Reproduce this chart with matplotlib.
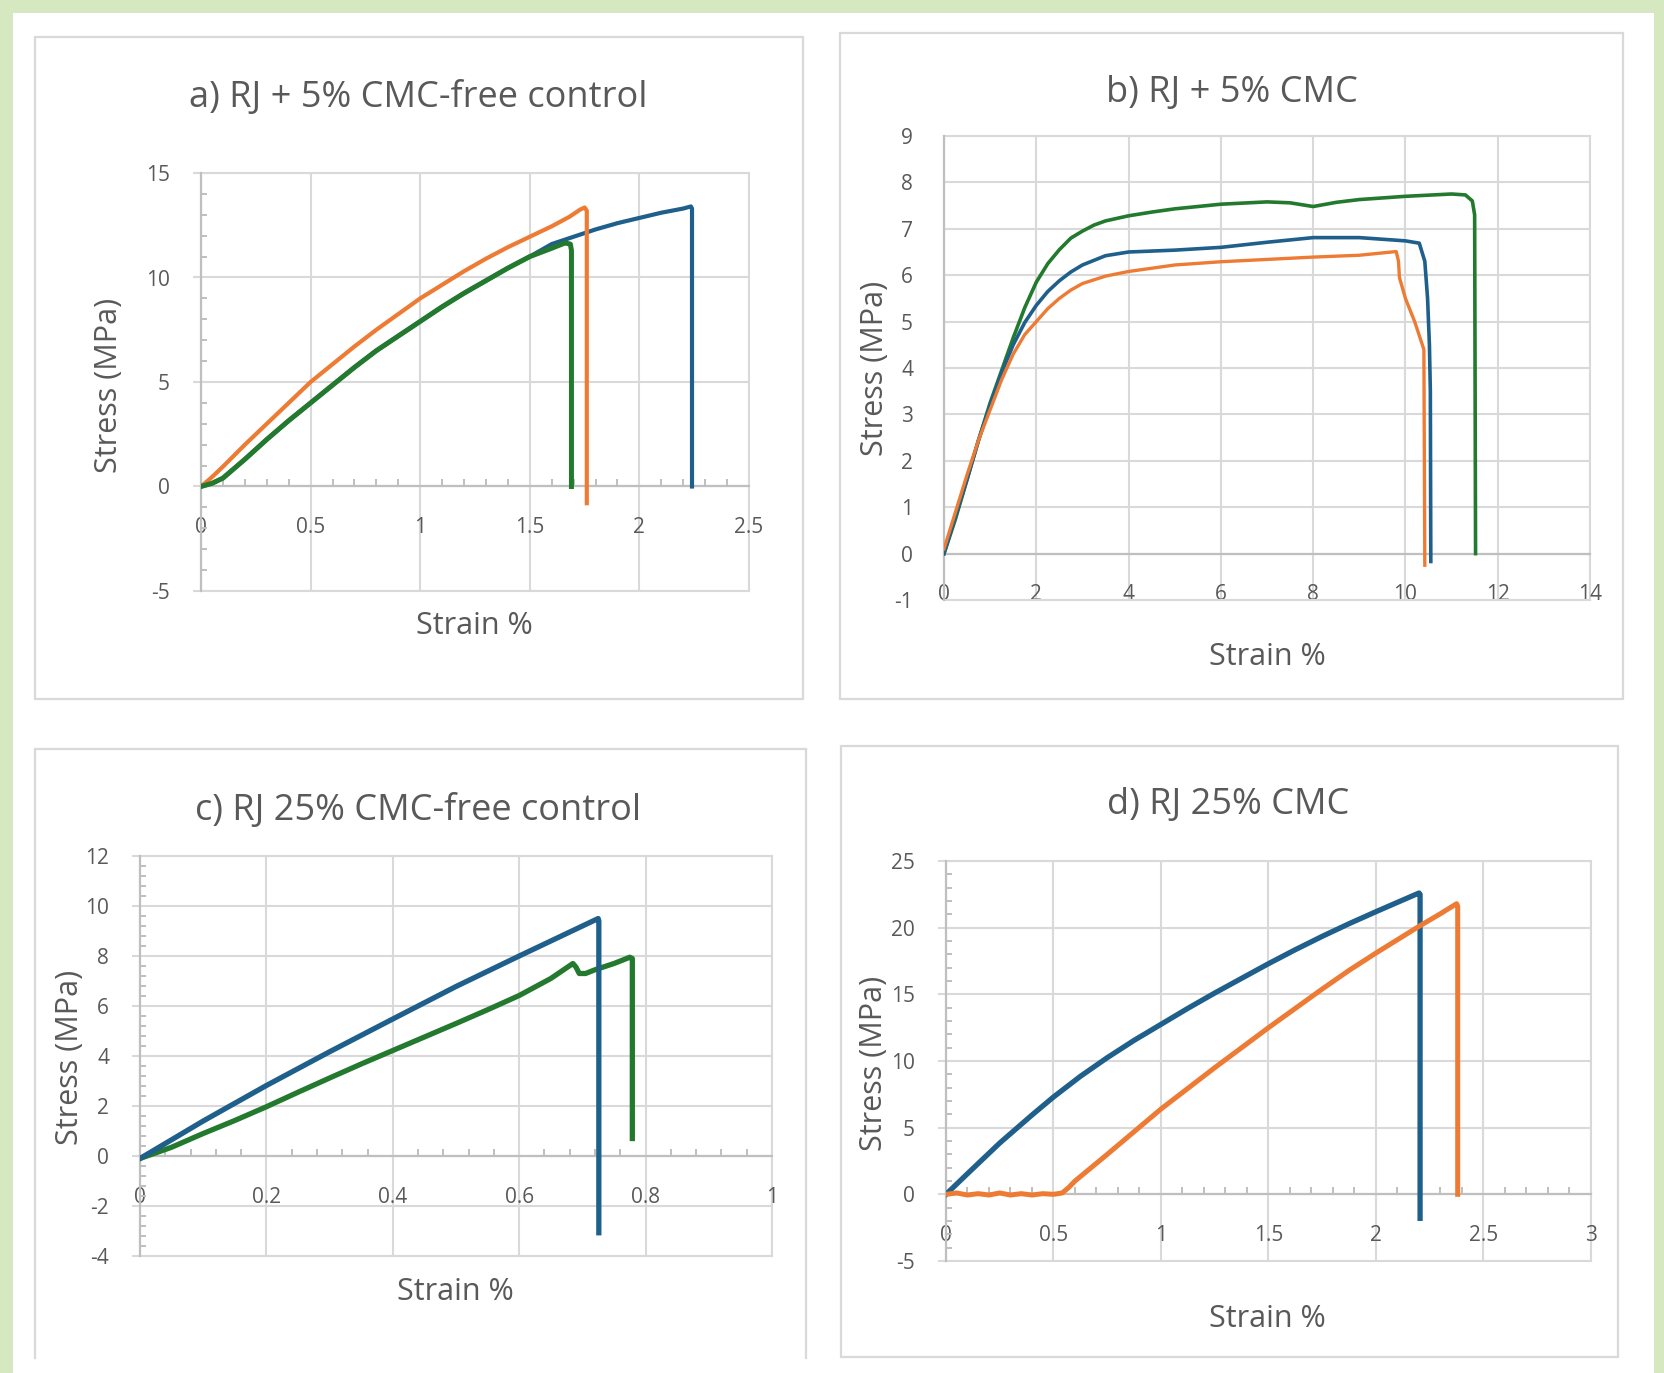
import matplotlib
matplotlib.use("Agg")
import matplotlib.pyplot as plt
from matplotlib.patches import Rectangle
from matplotlib.lines import Line2D
from matplotlib.ticker import MultipleLocator
import numpy as np

plt.rcParams['font.family'] = 'Open Sans'

# ---- data ----
# a) RJ + 5% CMC-free control
a_blue_x = [0, 0.05, 0.1, 0.2, 0.3, 0.4, 0.5, 0.6, 0.7, 0.8, 0.9, 1.0, 1.1, 1.2, 1.3, 1.4, 1.5,
            1.6, 1.7, 1.8, 1.9, 2.0, 2.1, 2.2, 2.235, 2.24, 2.24]
a_blue_y = [0, 0.15, 0.4, 1.3, 2.25, 3.15, 4.0, 4.85, 5.7, 6.5, 7.2, 7.9, 8.6, 9.25, 9.85, 10.45, 11.0,
            11.6, 11.95, 12.3, 12.6, 12.85, 13.1, 13.3, 13.4, 13.3, 0]
a_orange_x = [0, 0.05, 0.1, 0.2, 0.3, 0.4, 0.5, 0.6, 0.7, 0.8, 0.9, 1.0, 1.1, 1.2, 1.3, 1.4, 1.5,
              1.6, 1.68, 1.73, 1.75, 1.76, 1.76]
a_orange_y = [0, 0.45, 0.95, 2.0, 3.0, 4.0, 5.0, 5.85, 6.7, 7.5, 8.25, 9.0, 9.65, 10.3, 10.9, 11.45, 11.95,
              12.45, 12.9, 13.25, 13.35, 13.2, -0.8]
a_green_x = [0, 0.05, 0.1, 0.2, 0.3, 0.4, 0.5, 0.6, 0.7, 0.8, 0.9, 1.0, 1.1, 1.2, 1.3, 1.4, 1.5,
             1.6, 1.66, 1.685, 1.69, 1.69]
a_green_y = [0, 0.15, 0.4, 1.3, 2.25, 3.15, 4.0, 4.85, 5.7, 6.5, 7.2, 7.9, 8.6, 9.25, 9.85, 10.45, 11.0,
             11.4, 11.65, 11.6, 11.3, 0]
a_xticklabels = ['0', '0.5', '1', '1.5', '2', '2.5']
a_yticklabels = ['-5', '0', '5', '10', '15']

# b) RJ + 5% CMC
b_blue_x = [0, 0.25, 0.5, 0.75, 1.0, 1.25, 1.5, 1.75, 2.0, 2.25, 2.5, 2.75, 3.0, 3.5, 4.0, 5.0, 6.0,
            7.0, 8.0, 9.0, 10.0, 10.3, 10.42, 10.48, 10.52, 10.54, 10.55]
b_blue_y = [0, 0.8, 1.6, 2.45, 3.2, 3.9, 4.5, 4.98, 5.35, 5.65, 5.88, 6.07, 6.22, 6.42, 6.5, 6.54, 6.6,
            6.71, 6.81, 6.81, 6.74, 6.69, 6.3, 5.5, 4.5, 3.5, -0.17]
b_orange_x = [0, 0.25, 0.5, 0.75, 1.0, 1.25, 1.5, 1.75, 2.0, 2.25, 2.5, 2.75, 3.0, 3.5, 4.0, 5.0, 6.0,
              7.0, 8.0, 9.0, 9.8, 9.85, 9.87, 10.0, 10.2, 10.35, 10.4, 10.42]
b_orange_y = [0.1, 0.9, 1.7, 2.45, 3.1, 3.75, 4.3, 4.72, 5.0, 5.28, 5.5, 5.68, 5.82, 5.98, 6.08, 6.22, 6.29,
              6.34, 6.39, 6.43, 6.51, 6.3, 5.95, 5.5, 5.0, 4.55, 4.4, -0.25]
b_green_x = [0, 0.1, 0.25, 0.5, 0.75, 1.0, 1.25, 1.5, 1.75, 2.0, 2.25, 2.5, 2.75, 3.0, 3.25, 3.5, 4.0,
             4.5, 5.0, 6.0, 7.0, 7.5, 8.0, 8.5, 9.0, 10.0, 11.0, 11.3, 11.45, 11.5, 11.52]
b_green_y = [0, 0.3, 0.75, 1.6, 2.45, 3.25, 3.95, 4.65, 5.3, 5.85, 6.25, 6.55, 6.8, 6.95, 7.08, 7.17, 7.28,
             7.36, 7.43, 7.53, 7.58, 7.56, 7.48, 7.57, 7.63, 7.7, 7.75, 7.73, 7.6, 7.3, 0]
b_xticklabels = ['0', '2', '4', '6', '8', '10', '12', '14']
b_yticklabels = ['-1', '0', '1', '2', '3', '4', '5', '6', '7', '8', '9']

# c) RJ 25% CMC-free control
c_blue_x = [0, 0.1, 0.2, 0.3, 0.4, 0.5, 0.6, 0.65, 0.7, 0.725, 0.726, 0.726]
c_blue_y = [-0.1, 1.4, 2.82, 4.17, 5.48, 6.78, 8.0, 8.6, 9.2, 9.5, 9.4, -3.07]
c_green_x = [0, 0.05, 0.1, 0.15, 0.2, 0.25, 0.3, 0.35, 0.4, 0.45, 0.5, 0.55, 0.6, 0.65, 0.685,
             0.69, 0.695, 0.705, 0.72, 0.75, 0.775, 0.779, 0.779]
c_green_y = [-0.1, 0.35, 0.9, 1.42, 1.97, 2.55, 3.12, 3.68, 4.22, 4.76, 5.3, 5.85, 6.42, 7.1, 7.7,
             7.55, 7.3, 7.3, 7.45, 7.7, 7.95, 7.9, 0.7]
c_xticklabels = ['0', '0.2', '0.4', '0.6', '0.8', '1']
c_yticklabels = ['-4', '-2', '0', '2', '4', '6', '8', '10', '12']

# d) RJ 25% CMC
d_blue_x = [0, 0.1, 0.25, 0.4, 0.5, 0.625, 0.75, 0.875, 1.0, 1.125, 1.25, 1.375, 1.5, 1.625, 1.75,
            1.875, 2.0, 2.1, 2.2, 2.205, 2.205]
d_blue_y = [0, 1.55, 3.85, 5.95, 7.3, 8.85, 10.25, 11.55, 12.75, 13.95, 15.1, 16.2, 17.3, 18.35, 19.35,
            20.3, 21.2, 21.9, 22.6, 22.5, -1.8]
d_orange_x = [0, 0.05, 0.1, 0.15, 0.2, 0.25, 0.3, 0.35, 0.4, 0.45, 0.5, 0.54, 0.57, 0.6, 0.75, 0.875,
              1.0, 1.125, 1.25, 1.375, 1.5, 1.625, 1.75, 1.875, 2.0, 2.1, 2.2, 2.3, 2.375, 2.38, 2.38]
d_orange_y = [0, 0.1, -0.05, 0.05, -0.05, 0.1, -0.05, 0.05, -0.05, 0.05, 0, 0.1, 0.5, 1.0, 3.0, 4.7,
              6.4, 7.95, 9.5, 11.0, 12.5, 13.95, 15.4, 16.8, 18.1, 19.1, 20.1, 21.05, 21.8, 21.6, 0]
d_xticklabels = ['0', '0.5', '1', '1.5', '2', '2.5', '3']
d_yticklabels = ['-5', '0', '5', '10', '15', '20', '25']

BLUE = '#1f5f8b'
ORANGE = '#ee7b33'
GREEN = '#237a2e'
GRID = '#d9d9d9'
AXIS = '#bfbfbf'
TEXT = '#595959'
BG = '#d6e8c0'

W, H = 1665, 1373
fig = plt.figure(figsize=(W / 100, H / 100), dpi=100)
fig.patch.set_facecolor('white')


def px_rect(x0, y0, x1, y1):
    # pixel box (top-left origin) -> figure fraction [l, b, w, h]
    return [x0 / W, 1 - y1 / H, (x1 - x0) / W, (y1 - y0) / H]


# green page border
for x0, y0, x1, y1 in [(0, 0, W, 13), (0, 0, 13, H), (1654, 0, W, H)]:
    l, b, w, h = px_rect(x0, y0, x1, y1)
    fig.patches.append(Rectangle((l, b), w, h, transform=fig.transFigure,
                                 facecolor=BG, edgecolor='none', zorder=0))

# panel frames
for x0, y0, x1, y1 in [(35, 37, 803, 699), (840, 33, 1623, 699), (841, 746, 1618, 1357)]:
    l, b, w, h = px_rect(x0, y0, x1, y1)
    fig.patches.append(Rectangle((l, b), w, h, transform=fig.transFigure,
                                 facecolor='none', edgecolor=GRID, lw=1.6, zorder=1))
# panel c is cut at the bottom of the picture
for xs, ys in [([35, 35], [1358, 749]), ([35, 806], [749, 749]), ([806, 806], [749, 1358])]:
    fig.lines.append(Line2D([x / W for x in xs], [1 - y / H for y in ys],
                            transform=fig.transFigure, color=GRID, lw=1.6))


def make_axes(box, xlim, ylim, xstep, ystep, xlabels, ylabels, xminor=None, yminor=None):
    ax = fig.add_axes(px_rect(*box))
    ax.set_xlim(*xlim)
    ax.set_ylim(*ylim)
    xt = np.arange(xlim[0], xlim[1] + xstep / 2, xstep)
    yt = np.arange(ylim[0], ylim[1] + ystep / 2, ystep)
    ax.set_xticks(xt)
    ax.set_xticklabels(xlabels)
    ax.set_yticks(yt)
    ax.set_yticklabels(ylabels)
    ax.grid(True, which='major', color=GRID, lw=1.5, zorder=0)
    ax.set_axisbelow(True)
    for s in ['top', 'right']:
        ax.spines[s].set_visible(False)
    ax.spines['left'].set_position(('data', 0))
    ax.spines['bottom'].set_position(('data', 0))
    for s in ['left', 'bottom']:
        ax.spines[s].set_color(AXIS)
        ax.spines[s].set_linewidth(1.6)
    # outer edges of the plot area
    ax.axvline(xlim[1], color=GRID, lw=1.5, clip_on=False, zorder=0)
    ax.axhline(ylim[1], color=GRID, lw=1.5, clip_on=False, zorder=0)
    ax.axhline(ylim[0], color=GRID, lw=1.5, clip_on=False, zorder=0)
    ylen = 6 if yminor else 0
    ax.tick_params(axis='y', which='major', direction='out', length=ylen, width=1.5,
                   color=GRID, pad=(31 - ylen * 1.39) / 1.39, labelsize=15, labelcolor=TEXT)
    ax.tick_params(axis='x', which='major', direction='in', length=0,
                   pad=22, labelsize=15, labelcolor=TEXT)
    if xminor:
        ax.xaxis.set_minor_locator(MultipleLocator(xminor))
        ax.tick_params(axis='x', which='minor', direction='in', length=5, width=1.4, color=AXIS)
    if yminor:
        ax.yaxis.set_minor_locator(MultipleLocator(yminor))
        ax.tick_params(axis='y', which='minor', direction='in', length=4, width=1.4, color=AXIS)
    return ax


def label_panel(title, title_xy, ylab_xy, xlab_xy):
    fig.text(title_xy[0] / W, 1 - title_xy[1] / H, title, ha='center', va='center',
             fontsize=26, color=TEXT)
    fig.text(ylab_xy[0] / W, 1 - ylab_xy[1] / H, 'Stress (MPa)', ha='center', va='center',
             rotation=90, fontsize=22, color=TEXT)
    fig.text(xlab_xy[0] / W, 1 - xlab_xy[1] / H, 'Strain %', ha='center', va='center',
             fontsize=22, color=TEXT)


# a)
ax = make_axes((201, 173, 749, 591), (0, 2.5), (-5, 15), 0.5, 5,
               a_xticklabels, a_yticklabels, xminor=0.1, yminor=1)
ax.plot(a_blue_x, a_blue_y, color=BLUE, lw=3.0, zorder=3)
ax.plot(a_orange_x, a_orange_y, color=ORANGE, lw=3.0, zorder=4)
ax.plot(a_green_x, a_green_y, color=GREEN, lw=3.6, zorder=5)
label_panel('a) RJ + 5% CMC-free control', (418, 98), (109, 385), (474, 626))

# b)
ax = make_axes((944, 136, 1590, 600), (0, 14), (-1, 9), 2, 1,
               b_xticklabels, b_yticklabels)
ax.plot(b_green_x, b_green_y, color=GREEN, lw=2.6, zorder=3)
ax.plot(b_blue_x, b_blue_y, color=BLUE, lw=2.6, zorder=4)
ax.plot(b_orange_x, b_orange_y, color=ORANGE, lw=2.4, zorder=5)
label_panel('b) RJ + 5% CMC', (1232, 93), (875, 368), (1267, 657))

# c)
ax = make_axes((140, 856, 772, 1256), (0, 1), (-4, 12), 0.2, 2,
               c_xticklabels, c_yticklabels, xminor=0.04, yminor=0.4)
ax.plot(c_green_x, c_green_y, color=GREEN, lw=3.8, zorder=3)
ax.plot(c_blue_x, c_blue_y, color=BLUE, lw=3.8, zorder=4)
label_panel('c) RJ 25% CMC-free control', (418, 811), (70, 1057), (455, 1292))

# d)
ax = make_axes((946, 861, 1591, 1261), (0, 3), (-5, 25), 0.5, 5,
               d_xticklabels, d_yticklabels, xminor=0.1, yminor=1)
ax.plot(d_blue_x, d_blue_y, color=BLUE, lw=3.8, zorder=3)
ax.plot(d_orange_x, d_orange_y, color=ORANGE, lw=3.6, zorder=4)
label_panel('d) RJ 25% CMC', (1228, 805), (874, 1063), (1267, 1319))

fig.savefig('out.png', dpi=100, facecolor='white')
